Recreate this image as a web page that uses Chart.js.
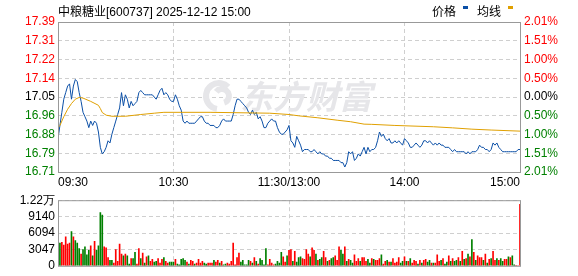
<!DOCTYPE html>
<html>
<head>
<meta charset="utf-8">
<script src="https://cdn.jsdelivr.net/npm/chart.js@4.4.1/dist/chart.umd.min.js"></script>
<style>
  body { margin: 0; background: #fff; font-family: Arial, "Liberation Sans", "Noto Sans CJK SC", sans-serif; }
  #wrap { position: relative; width: 578px; height: 276px; overflow: hidden; }
  #title { position: absolute; left: 58px; top: 2px; font-size: 12px; color: #000; white-space: nowrap; }
  .lg { position: absolute; top: 2px; font-size: 12px; color: #000; white-space: nowrap; }
  .mk { position: absolute; top: 6px; width: 5px; height: 3px; }
</style>
</head>
<body>
<div id="wrap">
  <canvas id="priceChart" width="578" height="190" style="position:absolute;left:0;top:0"></canvas>
  <canvas id="volChart" width="578" height="86" style="position:absolute;left:0;top:190px"></canvas>
  <div id="title">中粮糖业[600737] 2025-12-12 15:00</div>
  <div class="lg" style="left:432px">价格</div>
  <div class="mk" style="left:463px;background:#0b4fa6"></div>
  <div class="lg" style="left:477px">均线</div>
  <div class="mk" style="left:508px;background:#e0a000"></div>
</div>
<script>
// chart values
const prevClose = 17.05;
const limitPct = 2.01;
const priceTicks = ['17.39', '17.31', '17.22', '17.14', '17.05', '16.96', '16.88', '16.79', '16.71'];
const pctTicks = ['2.01%', '1.51%', '1.00%', '0.50%', '0.00%', '0.50%', '1.00%', '1.51%', '2.01%'];
const timeTicks = ['09:30', '10:30', '11:30/13:00', '14:00', '15:00'];
const timeTickPos = [0, 60, 120, 180, 240];
const volTicks = ['1.22万', '9140', '6094', '3047', '0'];
const volMax = 12188;

// one price per minute, 09:30 .. 15:00
const prices = [
  16.86, 16.92, 16.98, 17.04, 17.07, 17.10, 17.11, 17.04, 17.10, 17.13,
  17.12, 17.07, 17.03, 16.98, 16.96, 16.94, 16.91, 16.94, 16.92, 16.94,
  16.93, 16.89, 16.82, 16.79, 16.80, 16.82, 16.85, 16.84, 16.88, 16.91,
  16.94, 16.97, 17.00, 17.07, 17.01, 17.06, 17.04, 17.00, 17.03, 17.01,
  17.02, 17.03, 17.07, 17.08, 17.07, 17.06, 17.06, 17.06, 17.06, 17.06,
  17.05, 17.04, 17.06, 17.08, 17.09, 17.06, 17.07, 17.06, 17.04, 17.03,
  17.03, 17.06, 17.04, 17.01, 16.99, 16.94, 16.93, 16.94, 16.93, 16.93,
  16.93, 16.93, 16.94, 16.95, 16.96, 16.96, 16.94, 16.93, 16.93, 16.92,
  16.92, 16.92, 16.91, 16.91, 16.92, 16.94, 16.95, 16.94, 16.94, 16.94,
  16.94, 16.97, 17.01, 17.04, 17.04, 17.03, 17.02, 17.01, 17.00, 16.98,
  16.97, 16.99, 16.97, 16.98, 16.95, 16.96, 16.94, 16.91, 16.91, 16.93,
  16.94, 16.95, 16.94, 16.94, 16.91, 16.89, 16.88, 16.88, 16.89, 16.90,
  16.92, 16.85, 16.84, 16.82, 16.87, 16.85, 16.83, 16.80, 16.81, 16.81,
  16.81, 16.80, 16.80, 16.81, 16.80, 16.79, 16.80, 16.79, 16.79, 16.78,
  16.78, 16.77, 16.77, 16.76, 16.76, 16.76, 16.76, 16.75, 16.75, 16.73,
  16.75, 16.80, 16.79, 16.80, 16.76, 16.77, 16.79, 16.78, 16.80, 16.82,
  16.79, 16.82, 16.80, 16.81, 16.81, 16.82, 16.85, 16.89, 16.87, 16.88,
  16.86, 16.85, 16.86, 16.84, 16.84, 16.85, 16.84, 16.85, 16.84, 16.83,
  16.86, 16.85, 16.84, 16.82, 16.82, 16.83, 16.84, 16.83, 16.82, 16.83,
  16.85, 16.85, 16.84, 16.85, 16.84, 16.83, 16.84, 16.83, 16.84, 16.83,
  16.83, 16.82, 16.82, 16.82, 16.81, 16.80, 16.81, 16.80, 16.80, 16.80,
  16.80, 16.80, 16.79, 16.80, 16.79, 16.80, 16.80, 16.80, 16.81, 16.83,
  16.82, 16.82, 16.81, 16.81, 16.80, 16.81, 16.84, 16.83, 16.84, 16.82,
  16.81, 16.80, 16.80, 16.80, 16.80, 16.80, 16.80, 16.80, 16.80, 16.81,
  16.81
];

// average price line, read at a few minutes
const avgIdx = [0, 1, 3, 5, 7, 9, 11, 13, 17, 21, 22, 23, 25, 28, 35, 43, 50, 55, 79, 110, 120, 125, 135, 145, 152, 159, 163, 175, 195, 205, 215, 225, 240];
const avgPrices = [16.91, 16.92, 16.96, 16.994, 17.02, 17.04, 17.048, 17.045, 17.03, 17.012, 16.997, 16.979, 16.967, 16.962, 16.962, 16.97, 16.976, 16.98, 16.98, 16.976, 16.97, 16.964, 16.955, 16.944, 16.937, 16.926, 16.925, 16.92, 16.914, 16.909, 16.903, 16.899, 16.894];

// volume per minute (hands)
const volumes = [
  0, 4200, 4370, 3860, 5380, 4030, 4200, 6380, 5380, 4700,
  4200, 3190, 2180, 3020, 3530, 2020, 2860, 3700, 1850, 4540,
  2860, 3700, 9910, 9410, 3530, 3360, 1510, 1010, 1010, 500,
  3020, 840, 4030, 2180, 1850, 2180, 1850, 340, 1340, 1340,
  2520, 340, 3190, 1340, 2350, 500, 1680, 1850, 840, 1180,
  670, 840, 1340, 500, 1180, 1510, 840, 500, 670, 670,
  670, 1180, 340, 170, 1180, 1340, 1010, 670, 340, 1010,
  840, 340, 500, 1180, 500, 840, 500, 340, 500, 500,
  500, 1010, 670, 1010, 500, 840, 170, 340, 500, 340,
  840, 4200, 170, 1510, 2350, 670, 1010, 170, 170, 1010,
  840, 500, 1510, 840, 340, 1340, 1010, 170, 3190, 170,
  1180, 500, 170, 340, 840, 500, 2520, 1680, 670, 1850,
  2860, 3020, 840, 2690, 670, 1510, 1680, 1340, 1180, 3020,
  2180, 1680, 3360, 2860, 2180, 1010, 1180, 1510, 2690, 1510,
  840, 1010, 1340, 1510, 1850, 1010, 3530, 2860, 2180, 3530,
  840, 1180, 1010, 500, 2020, 840, 1340, 840, 1510, 1510,
  840, 1180, 500, 1340, 1180, 1010, 1010, 1340, 2020, 340,
  840, 1010, 670, 670, 1340, 500, 670, 1510, 500, 840,
  1680, 840, 840, 1340, 500, 1010, 840, 340, 1010, 500,
  1010, 1180, 670, 1010, 500, 500, 500, 2020, 840, 1010,
  1340, 340, 670, 1850, 840, 1340, 840, 1010, 1510, 840,
  2690, 1180, 1340, 2180, 1680, 4870, 2520, 1010, 1850, 1510,
  1510, 1010, 2180, 500, 1180, 1340, 2690, 1010, 1340, 1010,
  1340, 840, 1180, 1180, 1680, 1510, 1850, 170, 0, 0,
  11420
];

// 1 = up minute (red), 0 = down minute (green)
const volUp = [
  1,0,1,1,1,1,1,0,1,0, 0,0,1,0,0,0,0,1,0,1, 0,0,0,0,1,1,1,0,0,1, 1,1,1,1,0,1,0,0,1,0,
  0,1,1,0,1,0,1,0,1,1, 0,0,1,1,1,0,1,1,0,0, 0,1,0,0,0,0,0,1,0,1, 1,0,1,1,1,1,0,0,1,1,
  1,0,1,1,0,1,0,0,1,1, 1,1,1,1,1,0,0,0,0,0, 1,0,1,0,1,0,0,0,0,1, 1,1,1,0,0,0,0,1,1,0,
  1,1,0,1,0,0,0,1,1,1, 1,0,1,1,0,1,0,0,1,1, 0,1,0,0,1,1,1,0,0,1, 0,1,0,0,1,1,1,0,1,1,
  1,0,0,1,0,1,1,1,0,1, 1,0,1,0,1,1,1,1,0,0, 1,0,1,0,1,1,1,0,1,0, 1,1,0,0,1,0,1,1,1,0,
  1,0,0,1,0,1,0,0,1,0, 1,0,1,0,1,0,1,0,1,1, 1,0,1,0,1,0,1,1,0,1, 0,0,1,1,0,1,0,0,1,1,
  1
];

const RED = '#ff0000', GREEN = '#008000', GRID = '#cfcfcf';
const hi = prevClose * (1 + limitPct / 100);
const lo = prevClose * (1 - limitPct / 100);

// colour of a side label, counted from the bottom tick
function sideColor(i) {
  if (i > 4) return RED;
  if (i < 4) return GREEN;
  return '#000';
}

// gray frame round the plot area
const framePlugin = {
  id: 'frame',
  afterDraw(chart) {
    const { ctx, chartArea: a } = chart;
    ctx.save();
    ctx.strokeStyle = '#999';
    ctx.lineWidth = 1;
    ctx.strokeRect(a.left + 0.5, a.top + 0.5, a.right - a.left, a.bottom - a.top);
    ctx.restore();
  }
};

// faint brand mark behind the line
const markPlugin = {
  id: 'mark',
  beforeDatasetsDraw(chart) {
    const ctx = chart.ctx;
    ctx.save();
    ctx.strokeStyle = '#e6e6e9';
    ctx.lineWidth = 6;
    ctx.beginPath();
    ctx.arc(219, 96, 13, Math.PI * 0.55, Math.PI * 1.75);
    ctx.stroke();
    ctx.beginPath();
    ctx.arc(222, 96, 7, Math.PI * 1.2, Math.PI * 2.4);
    ctx.stroke();
    ctx.fillStyle = '#e6e6e9';
    ctx.font = 'italic bold 33px "Noto Sans CJK SC"';
    ctx.textBaseline = 'middle';
    ctx.fillText('东方财富', 240, 96);
    ctx.restore();
  }
};

const priceTickVals = priceTicks.map((t, i) => lo + i * (hi - lo) / 8);

new Chart(document.getElementById('priceChart'), {
  type: 'line',
  data: {
    datasets: [
      {
        label: '均线',
        data: avgIdx.map((m, i) => ({ x: m, y: avgPrices[i] })),
        borderColor: '#e0a000',
        borderWidth: 1,
        pointRadius: 0,
        tension: 0
      },
      {
        label: '价格',
        data: prices.map((p, i) => ({ x: i, y: p })),
        borderColor: '#0b4fa6',
        borderWidth: 1,
        pointRadius: 0,
        tension: 0
      }
    ]
  },
  options: {
    responsive: false,
    animation: false,
    layout: { padding: { top: 22, left: 0, right: 0, bottom: 0 } },
    plugins: { legend: { display: false }, tooltip: { enabled: false } },
    scales: {
      x: {
        type: 'linear', min: 0, max: 240,
        afterBuildTicks: s => { s.ticks = timeTickPos.map(v => ({ value: v })); },
        afterFit: s => { s.height = 18; },
        ticks: {
          callback: (v, i) => timeTicks[i],
          align: 'inner', maxRotation: 0, autoSkip: false, padding: 3,
          color: '#000', font: { size: 12, family: 'Arial' }
        },
        grid: { color: GRID, drawTicks: false },
        border: { display: false, dash: [4, 3] }
      },
      y: {
        position: 'left', min: lo, max: hi,
        afterBuildTicks: s => { s.ticks = priceTickVals.map(v => ({ value: v })); },
        afterFit: s => { s.width = 58; },
        ticks: {
          callback: (v, i) => priceTicks[8 - i],
          autoSkip: false, padding: 3,
          color: c => sideColor(c.index),
          font: { size: 12, family: 'Arial' }
        },
        grid: { color: GRID, drawTicks: false },
        border: { display: false, dash: [4, 3] }
      },
      yp: {
        position: 'right', min: lo, max: hi,
        afterBuildTicks: s => { s.ticks = priceTickVals.map(v => ({ value: v })); },
        afterFit: s => { s.width = 58; },
        ticks: {
          callback: (v, i) => pctTicks[8 - i],
          autoSkip: false, padding: 4,
          color: c => sideColor(c.index),
          font: { size: 12, family: 'Arial' }
        },
        grid: { display: false, drawTicks: false },
        border: { display: false }
      }
    }
  },
  plugins: [markPlugin, framePlugin]
});

const volTickVals = volTicks.map((t, i) => i * volMax / 4);

new Chart(document.getElementById('volChart'), {
  type: 'bar',
  data: {
    datasets: [{
      label: '成交量',
      data: volumes.map((v, i) => ({ x: i, y: v })),
      backgroundColor: volUp.map(u => (u ? RED : GREEN)),
      barThickness: 1
    }]
  },
  options: {
    responsive: false,
    animation: false,
    layout: { padding: { top: 6, left: 0, right: 58, bottom: 6 } },
    plugins: { legend: { display: false }, tooltip: { enabled: false } },
    scales: {
      x: {
        type: 'linear', min: 0, max: 240, offset: false,
        afterBuildTicks: s => { s.ticks = timeTickPos.map(v => ({ value: v })); },
        afterFit: s => { s.height = 0; },
        ticks: { display: false },
        grid: { color: GRID, drawTicks: false, offset: false },
        border: { display: false, dash: [4, 3] }
      },
      y: {
        position: 'left', min: 0, max: volMax,
        afterBuildTicks: s => { s.ticks = volTickVals.map(v => ({ value: v })); },
        afterFit: s => { s.width = 58; },
        ticks: {
          callback: (v, i) => volTicks[4 - i],
          autoSkip: false, padding: 3, color: '#000',
          font: { size: 12, family: 'Arial' }
        },
        grid: { color: GRID, drawTicks: false },
        border: { display: false, dash: [4, 3] }
      }
    }
  },
  plugins: [framePlugin]
});
</script>
</body>
</html>
